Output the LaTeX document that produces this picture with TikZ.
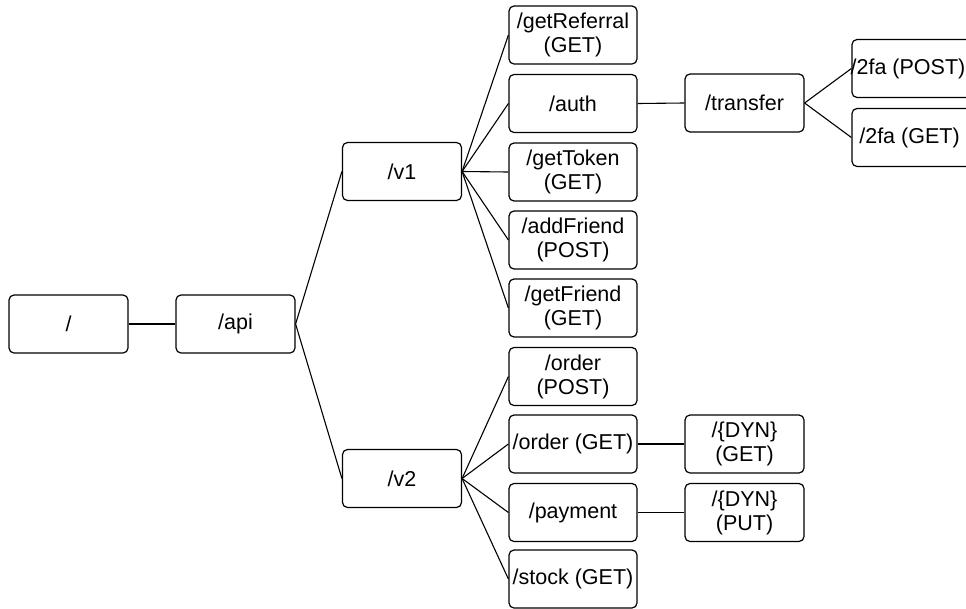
\documentclass[tikz,border=0pt]{standalone}
\usepackage{fontspec}
\setmainfont{Liberation Sans}
\begin{document}
\begin{tikzpicture}[x=1pt,y=-1pt,
  box/.style={draw, rounded corners=5pt, line width=1.2pt, minimum height=58pt,
    align=center, inner sep=0pt, font=\fontsize{21.5}{24}\selectfont},
  wbox/.style={box, minimum width=119pt},
  rbox/.style={box, minimum width=128pt},
  link/.style={line width=1.1pt}]
\useasboundingbox (0,0) rectangle (966,608);
\clip (0,0) rectangle (966,608);

% root and api level
\node[wbox] (root) at (68.5,324) {/};
\node[wbox] (api)  at (235.5,324) {/api};

% versions
\node[wbox] (v1) at (402,171.5) {/v1};
\node[wbox] (v2) at (402,478.5) {/v2};

% v1 endpoints
\node[rbox] (ref)    at (573,35)  {/getReferral\\(GET)};
\node[rbox] (auth)   at (573,103.5) {/auth};
\node[rbox] (token)  at (573,172) {/getToken\\(GET)};
\node[rbox] (addf)   at (573,240) {/addFriend\\(POST)};
\node[rbox] (getf)   at (573,308) {/getFriend\\(GET)};

% v2 endpoints
\node[rbox] (orderp) at (573,376.5) {/order\\(POST)};
\node[rbox] (orderg) at (573,444) {/order (GET)};
\node[rbox] (pay)    at (573,512.5) {/payment};
\node[rbox] (stock)  at (573,579) {/stock (GET)};

% deeper levels
\node[wbox] (transfer) at (744.5,103) {/transfer};
\node[wbox] (tfapost)  at (911.5,68.5) {\hspace*{-7pt}/2fa (POST)};
\node[wbox] (tfaget)   at (911.5,137.5) {\hspace*{-4pt}/2fa (GET)};
\node[wbox] (dynget)   at (744.5,444) {/\{DYN\}\\(GET)};
\node[wbox] (dynput)   at (744.5,512.5) {/\{DYN\}\\(PUT)};

% connectors
\draw[link] (root.east) -- (api.west);
\draw[link] (api.east) -- (v1.west);
\draw[link] (api.east) -- (v2.west);
\foreach \n in {ref,auth,token,addf,getf}
  \draw[link] (v1.east) -- (\n.west);
\foreach \n in {orderp,orderg,pay,stock}
  \draw[link] (v2.east) -- (\n.west);
\draw[link] (auth.east) -- (transfer.west);
\draw[link] (transfer.east) -- (tfapost.west);
\draw[link] (transfer.east) -- (tfaget.west);
\draw[link] (orderg.east) -- (dynget.west);
\draw[link] (pay.east) -- (dynput.west);
\end{tikzpicture}
\end{document}
